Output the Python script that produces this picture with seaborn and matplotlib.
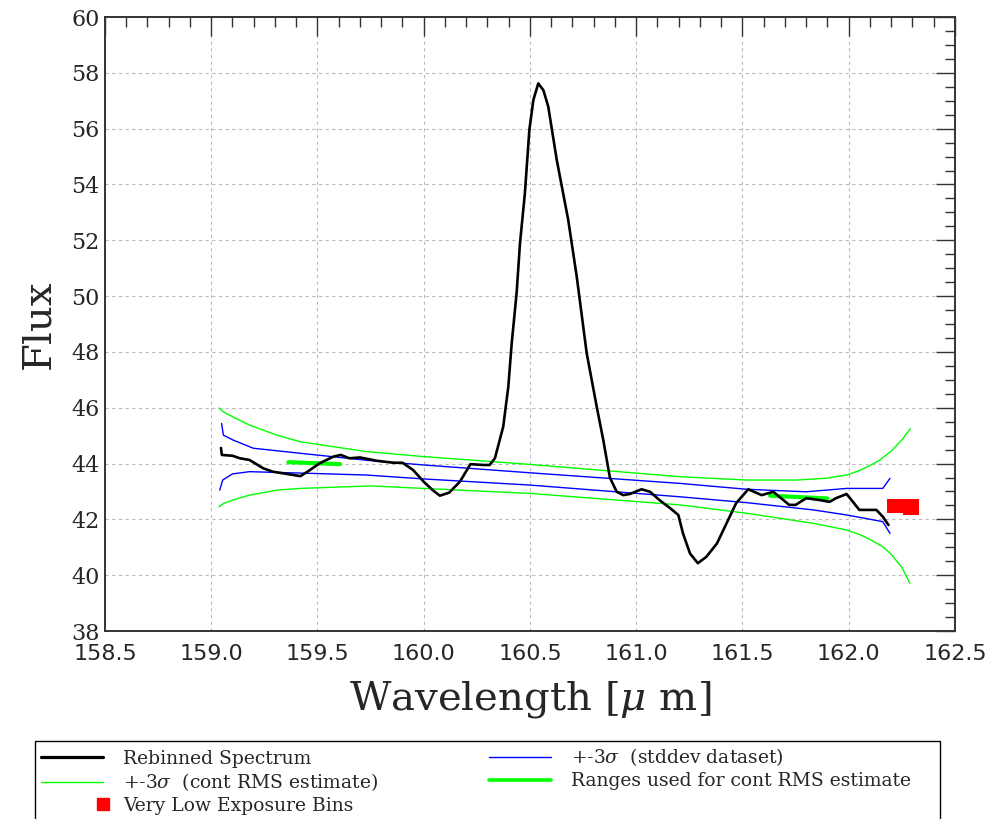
import matplotlib
matplotlib.use("Agg")
import matplotlib.pyplot as plt
from matplotlib.lines import Line2D
from matplotlib.patches import Rectangle
from matplotlib.legend_handler import HandlerLine2D
from matplotlib.ticker import MultipleLocator
import seaborn as sns

# ---------------------------------------
# 1. Data
# ---------------------------------------
spec_wave = [159.046, 159.05, 159.10, 159.135, 159.18, 159.245, 159.29, 159.355,
             159.42, 159.465, 159.51, 159.575, 159.61, 159.65, 159.70, 159.78,
             159.857, 159.90, 159.95, 160.0, 160.045, 160.076, 160.12, 160.17,
             160.22, 160.28, 160.31, 160.335, 160.374, 160.398, 160.414, 160.437,
             160.453, 160.476, 160.497, 160.516, 160.539, 160.563, 160.586, 160.626,
             160.68, 160.72, 160.767, 160.814, 160.845, 160.876, 160.908, 160.939,
             160.97, 161.025, 161.065, 161.11, 161.16, 161.198, 161.22, 161.253,
             161.29, 161.33, 161.38, 161.425, 161.47, 161.527, 161.59, 161.645,
             161.72, 161.75, 161.80, 161.865, 161.91, 161.94, 161.99, 162.05,
             162.13, 162.16, 162.187]
spec_flux = [44.56, 44.31, 44.28, 44.19, 44.13, 43.83, 43.71, 43.63,
             43.55, 43.77, 44.01, 44.25, 44.31, 44.19, 44.22, 44.10,
             44.03, 44.03, 43.77, 43.35, 43.03, 42.85, 42.96, 43.35,
             43.98, 43.95, 43.95, 44.19, 45.32, 46.75, 48.31, 50.10,
             51.89, 53.68, 55.95, 57.03, 57.62, 57.38, 56.79, 54.88,
             52.73, 50.70, 47.95, 46.04, 44.84, 43.50, 42.99, 42.87,
             42.91, 43.08, 42.99, 42.69, 42.40, 42.16, 41.50, 40.78,
             40.43, 40.66, 41.14, 41.86, 42.58, 43.08, 42.87, 42.99,
             42.52, 42.52, 42.76, 42.69, 42.63, 42.76, 42.91, 42.34,
             42.34, 42.10, 41.80]

std_up_wave = [159.049, 159.057, 159.104, 159.198, 159.418, 159.73, 160.0, 160.5,
               161.206, 161.52, 161.80, 161.99, 162.16, 162.194]
std_up_flux = [45.44, 45.02, 44.84, 44.55, 44.37, 44.12, 43.95, 43.67,
               43.29, 43.08, 42.99, 43.11, 43.11, 43.47]
std_lo_wave = [159.04, 159.054, 159.10, 159.18, 159.42, 159.73, 160.0, 160.5,
               161.206, 161.52, 161.833, 161.99, 162.16, 162.194]
std_lo_flux = [43.05, 43.41, 43.63, 43.71, 43.66, 43.59, 43.45, 43.23,
               42.81, 42.60, 42.34, 42.16, 41.92, 41.50]

rms_up_wave = [159.036, 159.06, 159.10, 159.18, 159.31, 159.42, 159.73, 160.0,
               160.5, 161.206, 161.52, 161.755, 161.90, 161.99, 162.05, 162.10,
               162.147, 162.20, 162.25, 162.29]
rms_up_flux = [45.99, 45.84, 45.68, 45.38, 45.02, 44.78, 44.43, 44.25,
               43.97, 43.53, 43.41, 43.41, 43.48, 43.59, 43.75, 43.93,
               44.13, 44.45, 44.85, 45.25]
rms_lo_wave = [159.036, 159.06, 159.10, 159.18, 159.31, 159.42, 159.75, 160.0,
               160.5, 161.206, 161.52, 161.833, 161.99, 162.05, 162.10, 162.16,
               162.20, 162.25, 162.288]
rms_lo_flux = [42.45, 42.58, 42.69, 42.87, 43.05, 43.11, 43.20, 43.11,
               42.93, 42.52, 42.22, 41.86, 41.62, 41.46, 41.28, 41.02,
               40.75, 40.28, 39.71]

range1_wave = [159.363, 159.606]
range1_flux = [44.05, 43.98]
range2_wave = [161.63, 161.90]
range2_flux = [42.85, 42.75]

lowexp_wave = [162.181, 162.255, 162.255, 162.332]
lowexp_lo = [42.22, 42.22, 42.16, 42.16]
lowexp_hi = [42.72, 42.72, 42.72, 42.72]

xticks = [158.5, 159.0, 159.5, 160.0, 160.5, 161.0, 161.5, 162.0, 162.5]
yticks = [38, 40, 42, 44, 46, 48, 50, 52, 54, 56, 58, 60]

# ---------------------------------------
# 2. Style
# ---------------------------------------
sns.set_style("white")
plt.rcParams["font.family"] = ["DejaVu Serif"]
plt.rcParams["mathtext.fontset"] = "dejavuserif"

fig = plt.figure(figsize=(9.92, 8.19), dpi=100)
ax = fig.add_axes([0.1058, 0.2295, 0.8569, 0.7497])

# ---------------------------------------
# 3. Lines
# ---------------------------------------
for xs, ys in [(rms_up_wave, rms_up_flux), (rms_lo_wave, rms_lo_flux)]:
    sns.lineplot(x=xs, y=ys, color="#00ff00", linewidth=1.0, ax=ax, estimator=None, sort=False)
for xs, ys in [(std_up_wave, std_up_flux), (std_lo_wave, std_lo_flux)]:
    sns.lineplot(x=xs, y=ys, color="#0000ff", linewidth=1.0, ax=ax, estimator=None, sort=False)
for xs, ys in [(range1_wave, range1_flux), (range2_wave, range2_flux)]:
    sns.lineplot(x=xs, y=ys, color="#00ff00", linewidth=3.0, ax=ax, estimator=None, sort=False)

sns.lineplot(x=spec_wave, y=spec_flux, color="black", linewidth=1.9, ax=ax,
             estimator=None, sort=False)

ax.fill_between(lowexp_wave, lowexp_lo, lowexp_hi, color="#ff0000", linewidth=0)

# ---------------------------------------
# 4. Axes, ticks, grid
# ---------------------------------------
ax.set_xlim(158.5, 162.5)
ax.set_ylim(38, 60)
ax.set_xticks(xticks)
ax.set_xticklabels([f"{t:.1f}" for t in xticks], family="DejaVu Sans", fontsize=16)
ax.set_yticks(yticks)
ax.set_yticklabels([str(t) for t in yticks], fontsize=16)
ax.xaxis.set_minor_locator(MultipleLocator(0.1))
ax.yaxis.set_minor_locator(MultipleLocator(0.5))
ax.tick_params(which="both", direction="in", top=True, right=True,
               color="#333333", width=1.0)
ax.tick_params(which="major", length=14)
ax.tick_params(which="minor", length=7)
ax.tick_params(axis="x", pad=9)
ax.tick_params(axis="y", pad=4)

for sp in ax.spines.values():
    sp.set_color("#333333")
    sp.set_linewidth(1.4)

ax.grid(which="major", linestyle=(0, (3, 3)), color="#bbbbbb", linewidth=0.8)
ax.set_axisbelow(True)

ax.set_xlabel(r"Wavelength [$\mu$ m]", fontsize=29, labelpad=11)
ax.set_ylabel("Flux", fontsize=29, labelpad=10)


# ---------------------------------------
# 5. Legend
# ---------------------------------------
class RightMarker(HandlerLine2D):
    # single marker sits at the right end of the handle
    def get_xdata(self, legend, xdescent, ydescent, width, height, fontsize):
        x = -xdescent + width
        return [x - 1, x + 1], [x]


handles = [
    Line2D([], [], color="black", linewidth=2.3),
    Line2D([], [], color="#00ff00", linewidth=1.0),
    Line2D([], [], color="#ff0000", marker="s", markersize=9, linestyle="none"),
    Line2D([], [], color="#0000ff", linewidth=1.0),
    Line2D([], [], color="#00ff00", linewidth=2.6),
]
labels = [
    "Rebinned Spectrum",
    r"+-3$\sigma$  (cont RMS estimate)",
    "Very Low Exposure Bins",
    r"+-3$\sigma$  (stddev dataset)",
    "Ranges used for cont RMS estimate",
]
fig.legend(handles, labels, loc="upper left",
           bbox_to_anchor=(0.0353, 1 - 741 / 819),
           ncol=2, fontsize=13.5, borderaxespad=0,
           handlelength=3.3, handletextpad=1.1, labelspacing=0.2,
           columnspacing=5.9, borderpad=0.3, frameon=False,
           handler_map={handles[2]: RightMarker()})

# legend box: fixed width, runs off the bottom edge like the reference
fig.patches.append(Rectangle((35 / 992, -0.05), 905 / 992, 0.05 + (1 - 741 / 819),
                             transform=fig.transFigure, fill=False,
                             edgecolor="black", linewidth=1.0))

plt.savefig("out.png", dpi=100)
